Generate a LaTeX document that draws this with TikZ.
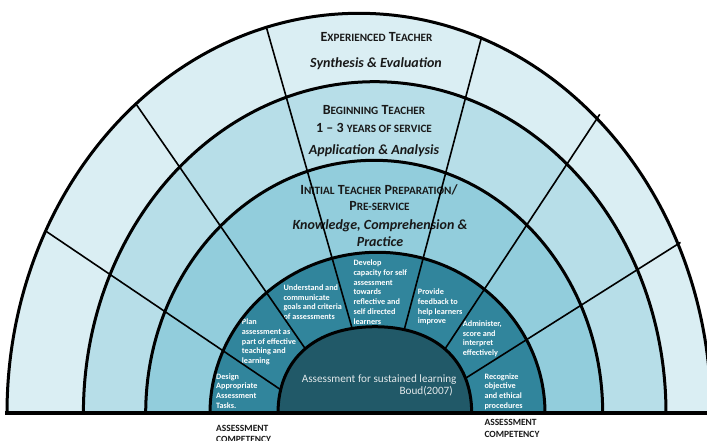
\documentclass[tikz,border=0pt]{standalone}
\usepackage{fontspec}
\setmainfont{Carlito}
\definecolor{bandA}{HTML}{DAEEF3}
\definecolor{bandB}{HTML}{B7DEE8}
\definecolor{bandC}{HTML}{92CDDC}
\definecolor{bandD}{HTML}{31859C}
\definecolor{coreC}{HTML}{215968}
\definecolor{coreT}{HTML}{E2E8EA}
\newcommand{\lstack}[2][9.75pt]{\vtop{\baselineskip=#1\lineskiplimit=-100pt\let\\\cr\halign{##\hfil\cr#2\crcr}}}
\newcommand{\scx}[1]{{\fontsize{11.2}{11.2}\selectfont #1}}
\begin{document}
\begin{tikzpicture}[x=1pt,y=-1pt,line join=round,
  arcline/.style={line width=3pt},
  spoke/.style={line width=1.6pt},
  head/.style={anchor=base,inner sep=0pt,font=\fontsize{14}{16}\selectfont\bfseries,text=black!90},
  headit/.style={head,font=\fontsize{14}{16}\selectfont\bfseries\itshape},
  comp/.style={anchor=base west,inner sep=0pt,font=\fontsize{8.2}{9.75}\selectfont\bfseries,text=white},
  botlbl/.style={anchor=base west,inner sep=0pt,font=\fontsize{9.5}{11}\selectfont\bfseries,text=black!90},
  coretext/.style={anchor=base east,inner sep=0pt,font=\fontsize{11.2}{12}\selectfont,text=coreT}]
\useasboundingbox (0,0) rectangle (707,441);
\clip (0,0) rectangle (707,441);
% bands
\begin{scope}
\clip (0,0) rectangle (707,413.3);
\fill[bandA] (359,413.3) ellipse[x radius=352pt,y radius=400pt];
\fill[bandB] (374.7,413.3) ellipse[x radius=291.3pt,y radius=331.6pt];
\fill[bandC] (374.2,413.3) ellipse[x radius=228.5pt,y radius=253pt];
\fill[bandD] (377.5,413.3) ellipse[x radius=167.5pt,y radius=161pt];
\end{scope}
% headings
\node[head] (h1) at (376.5,41.7) {E\scx{XPERIENCED} T\scx{EACHER}};
\node[headit] (h1b) at (376,67.7) {Synthesis \& Evaluation};
\node[head] (h2) at (374,114.3) {B\scx{EGINNING} T\scx{EACHER}};
\node[head] (h2b) at (374,132.5) {1 – 3 \scx{YEARS OF SERVICE}};
\node[headit] (h2c) at (374,155) {Application \& Analysis};
\node[head] (h3) at (379,194) {I\scx{NITIAL} T\scx{EACHER} P\scx{REPARATION}/};
\node[head] (h3b) at (379.5,210) {P\scx{RE-SERVICE}};
\node[headit] (h3c) at (380,229.3) {Knowledge, Comprehension \&};
\node[headit] (h3d) at (380,246) {Practice};
% competencies
\node[comp] (cA) at (216,379) {\lstack{Design\\Appropriate\\Assessment\\Tasks.}};
\node[comp] (cB) at (241.7,324.7) {\lstack{Plan\\assessment as\\part of effective\\teaching and\\learning}};
\node[comp] (cC) at (283.3,290.3) {\lstack{Understand and\\communicate\\goals and criteria\\of assessments}};
\node[comp] (cD) at (353.3,265.7) {\lstack{Develop\\capacity for self\\assessment\\towards\\reflective and\\self directed\\learners}};
\node[comp] (cE) at (417.7,294.7) {\lstack{Provide\\feedback to\\help learners\\improve}};
\node[comp] (cF) at (462.7,326.3) {\lstack{Administer,\\score and\\interpret\\effectively}};
\node[comp] (cG) at (484.3,379) {\lstack{Recognize\\objective\\and ethical\\procedures}};
% spokes
\coordinate (sA1) at (46.7,231.7); \coordinate (sA2) at (290,396);
\coordinate (sB1) at (136.7,105); \coordinate (sB2) at (311,357);
\coordinate (sC1) at (266,26); \coordinate (sC2) at (354,335);
\coordinate (sD1) at (481.7,36.7); \coordinate (sD2) at (401,342);
\coordinate (sE1) at (599.8,114.3); \coordinate (sE2) at (439,358);
\coordinate (sF1) at (680.5,242.4); \coordinate (sF2) at (458,383);
\draw[spoke] (sA1) -- (sA2);
\draw[spoke] (sB1) -- (sB2);
\draw[spoke] (sC1) -- (sC2);
\draw[spoke] (sD1) -- (sD2);
\draw[spoke] (sE1) -- (sE2);
\draw[spoke] (sF1) -- (sF2);
% core
\fill[coreC] (278,413.3) .. controls (278,359.6) and (314.9,326.7) .. (375,326.7) .. controls (435.1,326.7) and (471.7,359.6) .. (471.7,413.3) -- cycle;
% arcs
\begin{scope}
\clip (0,0) rectangle (707,413.3);
\draw[arcline] (359,413.3) ellipse[x radius=352pt,y radius=400pt];
\draw[arcline] (374.7,413.3) ellipse[x radius=291.3pt,y radius=331.6pt];
\draw[arcline] (374.2,413.3) ellipse[x radius=228.5pt,y radius=253pt];
\draw[arcline] (377.5,413.3) ellipse[x radius=167.5pt,y radius=161pt];
\draw[arcline] (278,413.3) .. controls (278,359.6) and (314.9,326.7) .. (375,326.7) .. controls (435.1,326.7) and (471.7,359.6) .. (471.7,413.3);
\end{scope}
% core text
\node[coretext] (core1) at (456.7,382) {Assessment for sustained learning};
\node[coretext] (core2) at (453,394.3) {Boud(2007)};
% baseline
\coordinate (bl1) at (5,413.3); \coordinate (bl2) at (707,413.3);
\draw[line width=4pt] (bl1) -- (bl2);
% bottom labels
\node[botlbl] (lblL) at (216,431.3) {\lstack[11pt]{ASSESSMENT\\COMPETENCY}};
\node[botlbl] (lblR) at (484.3,425.7) {\lstack[11.3pt]{ASSESSMENT\\COMPETENCY}};
\end{tikzpicture}
\end{document}
